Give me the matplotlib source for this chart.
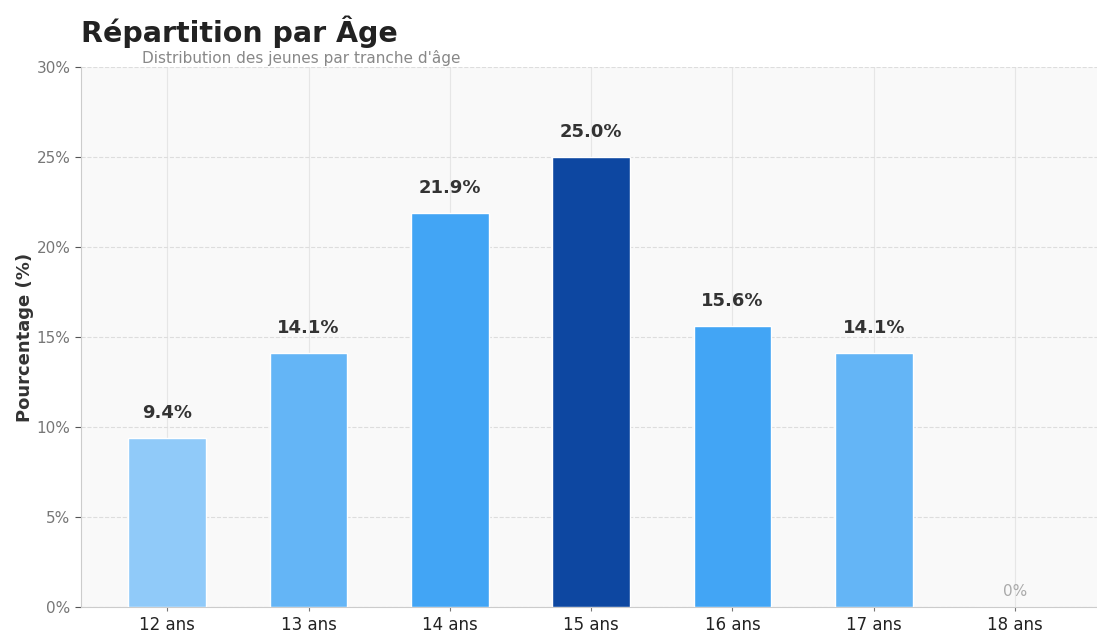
import matplotlib
matplotlib.use("Agg")
import matplotlib.pyplot as plt
from matplotlib.ticker import FuncFormatter

plt.rcParams['font.family'] = ['DejaVu Sans']

categories = ["12 ans", "13 ans", "14 ans", "15 ans", "16 ans", "17 ans", "18 ans"]
values = [9.4, 14.1, 21.9, 25.0, 15.6, 14.1, 0.0]
colors = ["#90CAF9", "#64B5F6", "#42A5F5", "#0D47A1", "#42A5F5", "#64B5F6", "#64B5F6"]

fig = plt.figure(figsize=(10.97, 6.35), dpi=100)
ax = fig.add_axes([81/1097, 1 - 607/635, (1097-81)/1097, (607-67)/635])
ax.set_facecolor("#f9f9f9")

x = list(range(len(categories)))
ax.bar(x, values, width=0.55, color=colors, edgecolor="white", linewidth=1, zorder=3)

for xi, v in zip(x, values):
    if v > 0:
        ax.text(xi, v + 0.9, f"{v:.1f}%", ha="center", va="bottom", fontsize=13,
                fontweight="bold", color="#333333", zorder=4)
    else:
        ax.text(xi, 0.45, "0%", ha="center", va="bottom", fontsize=11,
                color="#aaaaaa", zorder=4)

ax.set_xlim(-0.61, 6.58)
ax.set_ylim(0, 30)
ax.set_yticks([0, 5, 10, 15, 20, 25, 30])
ax.yaxis.set_major_formatter(FuncFormatter(lambda v, p: f"{v:.0f}%"))
ax.set_xticks(x)
ax.set_xticklabels(categories, fontsize=12, color="#222222")
ax.tick_params(axis="y", labelsize=11, labelcolor="#777777", color="#555555", length=4)
ax.tick_params(axis="x", color="#777777", length=3)

ax.grid(axis="y", linestyle="--", color="#dddddd", linewidth=0.8, zorder=0)
ax.grid(axis="x", linestyle="-", color="#e6e6e6", linewidth=0.8, zorder=0)

for s in ["top", "right"]:
    ax.spines[s].set_visible(False)
for s in ["left", "bottom"]:
    ax.spines[s].set_color("#cccccc")

ax.set_ylabel("Pourcentage (%)", fontsize=13, fontweight="bold", color="#333333", labelpad=1.5)

fig.text(81/1097, 1 - 32/635, "Répartition par Âge", fontsize=20.5, fontweight="bold",
         color="#222222", ha="left", va="center")
fig.text(142/1097, 1 - 58/635, "Distribution des jeunes par tranche d'âge", fontsize=11,
         color="#888888", ha="left", va="center")

fig.savefig("out.png", dpi=100)
